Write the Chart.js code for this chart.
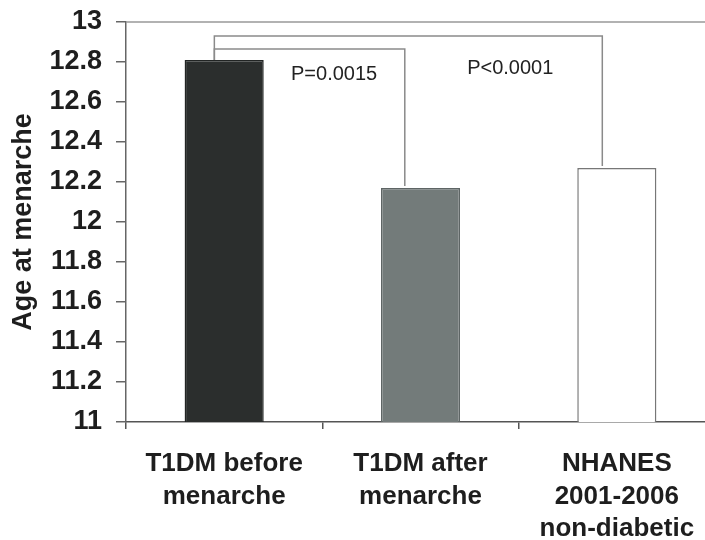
<!DOCTYPE html>
<html>
<head>
<meta charset="utf-8">
<script src="https://cdn.jsdelivr.net/npm/chart.js@4/dist/chart.umd.min.js"></script>
<style>
  html, body { margin: 0; padding: 0; background: #fff; overflow: hidden; }
  #wrap { width: 725px; height: 540px; }
</style>
</head>
<body>
<div id="wrap"><canvas id="grafica"></canvas></div>
<script>
const grupos = [
  ['T1DM before', 'menarche'],
  ['T1DM after', 'menarche'],
  ['NHANES', '2001-2006', 'non-diabetic'],
];
const edades = [12.81, 12.17, 12.27];
const coloresBarra = ['#2b2e2d', '#737b7a', '#ffffff'];
const bordesBarra = ['#222524', '#5e6565', '#777777'];

// comparaciones: desde / hasta (indice de categoria), altura del corchete
const compDesde = [-0.05, -0.05];
const compHasta = [0.92, 1.926];
const compAltura = [12.865, 12.93];
const compTexto = ['P=0.0015', 'P<0.0001'];
const textoX = [0.56, 1.457];
const textoY = [12.74, 12.77];

const fuente = '"Liberation Sans", Arial, Helvetica, sans-serif';

const corchetes = {
  id: 'corchetes',
  afterDatasetsDraw(chart) {
    const { ctx, chartArea, scales: { x, y } } = chart;
    ctx.save();
    // linea superior del marco
    ctx.strokeStyle = '#999';
    ctx.lineWidth = 1.5;
    ctx.beginPath();
    ctx.moveTo(chartArea.left, chartArea.top);
    ctx.lineTo(chartArea.right + 20, chartArea.top);
    ctx.stroke();

    ctx.strokeStyle = '#8a8a8a';
    ctx.lineWidth = 1.5;
    compAltura.forEach((alto, i) => {
      const a = Math.round(compDesde[i]);
      const b = Math.round(compHasta[i]);
      const x1 = x.getPixelForValue(compDesde[i]);
      const x2 = x.getPixelForValue(compHasta[i]);
      const yt = y.getPixelForValue(alto);
      ctx.beginPath();
      ctx.moveTo(x1, y.getPixelForValue(edades[a]));
      ctx.lineTo(x1, yt);
      ctx.lineTo(x2, yt);
      ctx.lineTo(x2, y.getPixelForValue(edades[b]) - 2);
      ctx.stroke();
    });

    ctx.fillStyle = '#222';
    ctx.font = '20px ' + fuente;
    ctx.textAlign = 'center';
    ctx.textBaseline = 'middle';
    compTexto.forEach((t, i) => {
      ctx.fillText(t, x.getPixelForValue(textoX[i]), y.getPixelForValue(textoY[i]));
    });
    ctx.restore();
  },
};

new Chart(document.getElementById('grafica'), {
  type: 'bar',
  data: {
    labels: grupos,
    datasets: [
      {
        data: edades,
        backgroundColor: coloresBarra,
        borderColor: bordesBarra,
        borderWidth: 1.5,
        borderSkipped: false,
        categoryPercentage: 1,
        barPercentage: 0.403,
      },
    ],
  },
  options: {
    responsive: true,
    maintainAspectRatio: false,
    animation: false,
    layout: { padding: { top: 22, right: 10, left: 0, bottom: 0 } },
    plugins: {
      legend: { display: false },
      tooltip: { enabled: false },
    },
    scales: {
      x: {
        offset: true,
        grid: {
          offset: true,
          drawOnChartArea: false,
          drawTicks: true,
          tickLength: 7,
          color: '#555',
          lineWidth: 1.5,
        },
        border: { color: '#555', width: 1.5 },
        ticks: {
          color: '#1e1e1e',
          padding: 19,
          maxRotation: 0,
          autoSkip: false,
          font: { family: fuente, size: 26, weight: 'bold', lineHeight: '32.5px' },
        },
        afterFit(scale) {
          scale.height = 118;
        },
      },
      y: {
        min: 11,
        max: 13,
        ticks: {
          stepSize: 0.2,
          color: '#1e1e1e',
          padding: 14,
          font: { family: fuente, size: 27, weight: 'bold', lineHeight: 0.55 },
          callback: (v) => Math.round(v * 10) / 10,
        },
        grid: {
          drawOnChartArea: false,
          drawTicks: true,
          tickLength: 10,
          color: '#666',
          lineWidth: 1.5,
        },
        border: { color: '#666', width: 1.5 },
        title: {
          display: true,
          text: 'Age at menarche',
          color: '#1e1e1e',
          padding: { top: 7, bottom: 0 },
          font: { family: fuente, size: 27, weight: 'bold' },
        },
        afterFit(scale) {
          scale.width = 126;
        },
      },
    },
  },
  plugins: [corchetes],
});
</script>
</body>
</html>
